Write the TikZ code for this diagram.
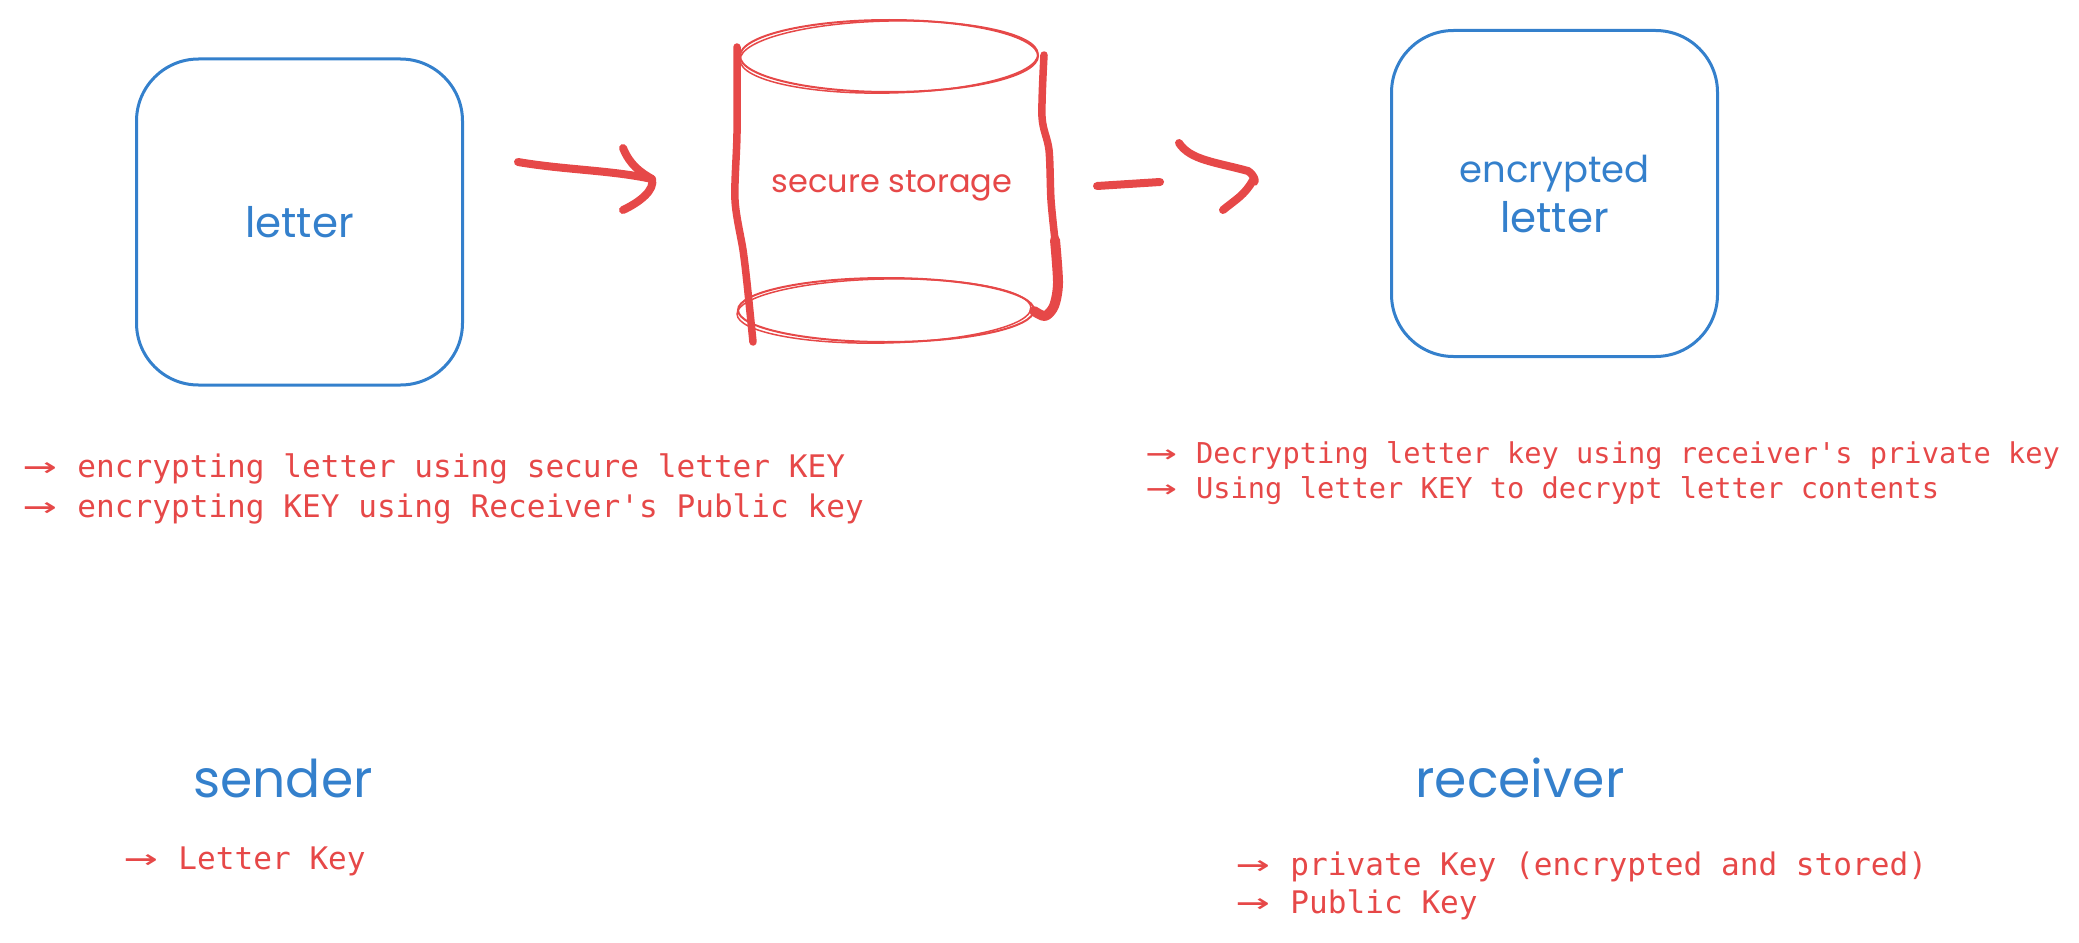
\documentclass[tikz,border=0pt]{standalone}
\usepackage{fontspec}
\setmainfont{Poppins}
\setmonofont{DejaVu Sans Mono}
\usetikzlibrary{shapes.geometric}
\definecolor{sketchred}{HTML}{E64848}
\definecolor{sketchblue}{HTML}{3480CC}
\newcommand{\notearrow}{\makebox[37.5pt]{\scalebox{1.8}[1.1]{→}}\hspace{18.75pt}}
\newcommand{\smallarrow}{\makebox[34.6pt]{\scalebox{1.8}[1.1]{→}}\hspace{17.3pt}}
\tikzset{
	sketchbox/.style={draw=sketchblue,line width=3pt,rounded corners=62pt,
		text=sketchblue,font=\fontsize{42}{50}\selectfont,align=center,
		minimum width=326pt,minimum height=326pt},
	sketchring/.style={draw=sketchred,line width=2pt,ellipse,inner sep=0pt},
	sketchwall/.style={draw=sketchred,line width=7.5pt,line cap=round,line join=round},
	sketcharrow/.style={draw=sketchred,line width=8pt,line cap=round,line join=round},
	notewide/.style={text=sketchred,anchor=base west,inner sep=0pt,
		font=\ttfamily\fontsize{31.1}{38}\selectfont},
	notenarrow/.style={text=sketchred,anchor=base west,inner sep=0pt,
		font=\ttfamily\fontsize{28.7}{35}\selectfont},
	title/.style={text=sketchblue,font=\fontsize{52}{60}\selectfont}
}
\begin{document}
\begin{tikzpicture}[x=1pt,y=-1pt]
	\useasboundingbox (0,0) rectangle (2079,942);
	% boxes
	\node (letter) [sketchbox] at (299.5,222) {letter};
	\node (encrypted) [sketchbox] at (1554.5,193.5) {{\fontsize{37}{50}\selectfont encrypted}\\letter};
	% storage
	\node (top) [sketchring,minimum width=298pt,minimum height=72pt] at (889,56) {};
	\node (bottom) [sketchring,minimum width=296pt,minimum height=64pt] at (886,310) {};
	\draw[sketchred,line width=1.5pt,rotate around={1.2:(889,57)}] (889,57) ellipse (149pt and 36pt);
	\draw[sketchred,line width=1.5pt,rotate around={1.2:(884,311)}] (884,311) ellipse (147pt and 32pt);
	\node (storage) [text=sketchred,font=\fontsize{32}{38}\selectfont] at (892,186) {secure storage};
	\draw[sketchwall] plot[smooth,tension=0.5] coordinates
		{(737,47) (737,133) (735,200) (743,250) (747,283) (753,342)};
	\draw[sketchwall] plot[smooth,tension=0.5] coordinates
		{(1044,55) (1042,117) (1049,150) (1051,200) (1055,240)};
	\draw[sketchwall,line width=10pt] plot[smooth,tension=0.5] coordinates
		{(1055,240) (1058,283) (1054,306) (1045,316) (1034,311)};
	% arrows
	\coordinate (sendstart) at (518,162);
	\coordinate (sendtip) at (652,179);
	\coordinate (sendupper) at (623,148);
	\coordinate (sendlower) at (623,210);
	\draw[sketcharrow] (sendstart) .. controls (565,170) and (610,170) .. (sendtip);
	\draw[sketcharrow] (sendupper) .. controls (630,165) and (640,172) .. (sendtip)
		.. controls (655,190) and (640,202) .. (sendlower);
	\coordinate (readstart) at (1097,186);
	\coordinate (readend) at (1160,182);
	\coordinate (readupper) at (1179,143);
	\coordinate (readtip) at (1253,180);
	\coordinate (readlower) at (1223,210);
	\draw[sketcharrow] (readstart) -- (readend);
	\draw[sketcharrow] (readupper) .. controls (1190,160) and (1215,162) .. (1248,171)
		.. controls (1256,176) and (1256,186) .. (readtip)
		.. controls (1245,195) and (1235,200) .. (readlower);
	% notes
	\node (encryptnote) [notewide] at (21,477) {\notearrow encrypting letter using secure letter KEY};
	\node (keynote) [notewide] at (21,517) {\notearrow encrypting KEY using Receiver's Public key};
	\node (decryptnote) [notenarrow] at (1144,463) {\smallarrow Decrypting letter key using receiver's private key};
	\node (usenote) [notenarrow] at (1144,498) {\smallarrow Using letter KEY to decrypt letter contents};
	% people
	\node (sender) [title] at (283,778) {sender};
	\node (receiver) [title] at (1520,778) {receiver};
	\node (letterkey) [notewide] at (122,869) {\notearrow Letter Key};
	\node (privatekey) [notewide] at (1234,875) {\notearrow private Key (encrypted and stored)};
	\node (publickey) [notewide] at (1234,913) {\notearrow Public Key};
\end{tikzpicture}
\end{document}
